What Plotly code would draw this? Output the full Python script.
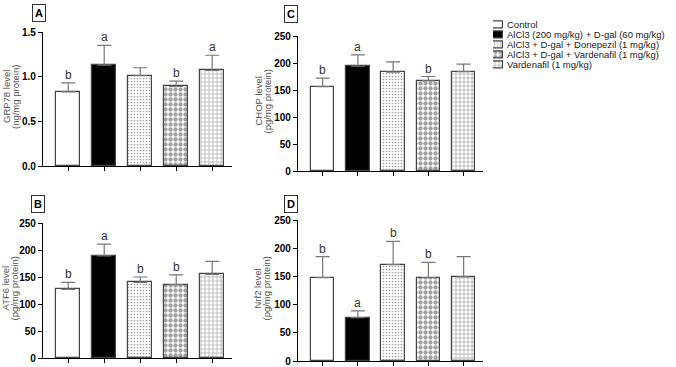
import plotly.graph_objects as go

groups = ["Control",
          "AlCl3 (200 mg/kg) + D-gal (60 mg/kg)",
          "AlCl3 + D-gal + Donepezil (1 mg/kg)",
          "AlCl3 + D-gal + Vardenafil (1 mg/kg)",
          "Vardenafil (1 mg/kg)"]

grp78_mean = [0.83, 1.13, 1.01, 0.89, 1.07]
grp78_err = [0.10, 0.22, 0.09, 0.06, 0.17]
grp78_letters = ["b", "a", "", "b", "a"]

chop_mean = [156, 194, 183, 167, 184]
chop_err = [16, 21, 19, 8, 14]
chop_letters = ["b", "a", "", "b", ""]

atf6_mean = [127, 189, 140, 136, 155]
atf6_err = [13, 22, 10, 18, 24]
atf6_letters = ["b", "a", "b", "b", ""]

nrf2_mean = [148, 77, 171, 148, 149]
nrf2_err = [37, 12, 41, 27, 36]
nrf2_letters = ["b", "a", "b", "b", ""]

W, H = 676, 367
def px(x): return x / W
def py(y): return 1 - y / H

fill_colors = ["white", "black", "white", "white", "white"]
pat_shapes = ["", "", ".", ".", "+"]
pat_fg = ["#888", "black", "#8a8a8a", "black", "#333"]
pat_size = [4, 4, 3, 5, 4]
pat_sol = [0.3, 0.3, 0.25, 0.58, 0.3]

def marker():
    return dict(color=fill_colors,
                line=dict(color="#444", width=1.2),
                pattern=dict(shape=pat_shapes, fgcolor=pat_fg, bgcolor=fill_colors,
                             size=pat_size, solidity=pat_sol, fillmode="overlay"))

# (xaxis, yaxis, means, errors, letters, title lines, y range, dtick, format,
#  x domain px, y domain px, panel label, label pos px, title line x px)
panels = [
    ("x", "y", grp78_mean, grp78_err, grp78_letters, ["GRP78 level", "(ng/mg protein)"], [0, 1.5], 0.5, ".1f",
     (43, 232), (166, 32), "A", (38.5, 12.5), (6, 15)),
    ("x2", "y2", chop_mean, chop_err, chop_letters, ["CHOP level", "(pg/mg protein)"], [0, 250], 50, "d",
     (298, 483), (171, 36), "C", (291, 14.5), (258, 267)),
    ("x3", "y3", atf6_mean, atf6_err, atf6_letters, ["ATF6 level", "(pg/mg protein)"], [0, 250], 50, "d",
     (43, 232), (358, 223), "B", (37.5, 203.5), (5, 14)),
    ("x4", "y4", nrf2_mean, nrf2_err, nrf2_letters, ["Nrf2 level", "(pg/mg protein)"], [0, 250], 50, "d",
     (298, 483), (361, 220), "D", (291, 204), (257, 266)),
]

fig = go.Figure()
annotations = []
layout = {}
idx = list(range(len(groups)))
for (xa, ya, mean, err, letters, tlines, yr, dt, fmt, xd, yd, lab, lpos, tx) in panels:
    fig.add_trace(go.Bar(x=idx, y=mean, xaxis=xa, yaxis=ya, width=0.67,
                         marker=marker(), showlegend=False,
                         error_y=dict(type="data", array=err, arrayminus=[0] * len(err),
                                      symmetric=False, color="#777", thickness=1.2, width=7)))
    for i, t in enumerate(letters):
        if t:
            annotations.append(dict(x=i, y=mean[i] + err[i], xref=xa, yref=ya, text=t,
                                    showarrow=False, yanchor="bottom", yshift=-1,
                                    font=dict(size=12, color="#333", family="Arial")))
    annotations.append(dict(x=px(lpos[0]), y=py(lpos[1]), xref="paper", yref="paper",
                            text="<b>%s</b>" % lab, xanchor="center", yanchor="middle",
                            showarrow=False, bordercolor="#333", borderwidth=1, borderpad=2,
                            bgcolor="white", font=dict(size=11, color="black", family="Arial")))
    ymid = py((yd[0] + yd[1]) / 2 - 2)
    for line, xx in zip(tlines, tx):
        annotations.append(dict(x=px(xx), y=ymid, xref="paper", yref="paper", text=line,
                                textangle=-90, xanchor="center", yanchor="middle", showarrow=False,
                                font=dict(size=9.5, color="#555", family="Arial")))
    xk = "xaxis" + xa[1:]
    yk = "yaxis" + ya[1:]
    layout[xk] = dict(domain=[px(xd[0]), px(xd[1])], anchor=ya, range=[-0.7, 4.55], showline=True,
                      linecolor="black", linewidth=1.2, ticks="outside", ticklen=4, tickwidth=1.2,
                      tickcolor="black", tickvals=idx, showticklabels=False, showgrid=False,
                      zeroline=False, fixedrange=True)
    layout[yk] = dict(domain=[py(yd[0]), py(yd[1])], anchor=xa, range=yr, dtick=dt, tickformat=fmt,
                      showline=True, linecolor="black", linewidth=1.2, ticks="outside", ticklen=4,
                      tickwidth=1.2, tickcolor="black", showgrid=False, zeroline=False,
                      tickfont=dict(size=10, color="black", family="Arial", weight="bold"))

# Legend drawn as a small categorical axis built from the group list
fig.add_trace(go.Bar(x=[1] * len(groups), y=groups, orientation="h", xaxis="x5", yaxis="y5",
                     width=0.7, marker=marker(), showlegend=False, hoverinfo="skip"))
layout["xaxis5"] = dict(domain=[px(493), px(503)], anchor="y5", range=[0, 1], visible=False,
                        fixedrange=True)
layout["yaxis5"] = dict(domain=[py(69.5), py(19.5)], anchor="x5", side="right",
                        tickmode="array", tickvals=groups, ticktext=groups,
                        categoryorder="array", categoryarray=groups, autorange="reversed",
                        showline=False, ticks="", showgrid=False, zeroline=False,
                        ticklabelstandoff=3,
                        tickfont=dict(size=9.5, color="#222", family="Arial"))

fig.update_layout(width=W, height=H, margin=dict(l=0, r=0, t=0, b=0, autoexpand=False),
                  paper_bgcolor="white", plot_bgcolor="white", bargap=0,
                  annotations=annotations, **layout)
fig.write_html("out.html", config={"displayModeBar": False},
               post_script="document.body.style.margin='0';document.body.style.padding='0';")
